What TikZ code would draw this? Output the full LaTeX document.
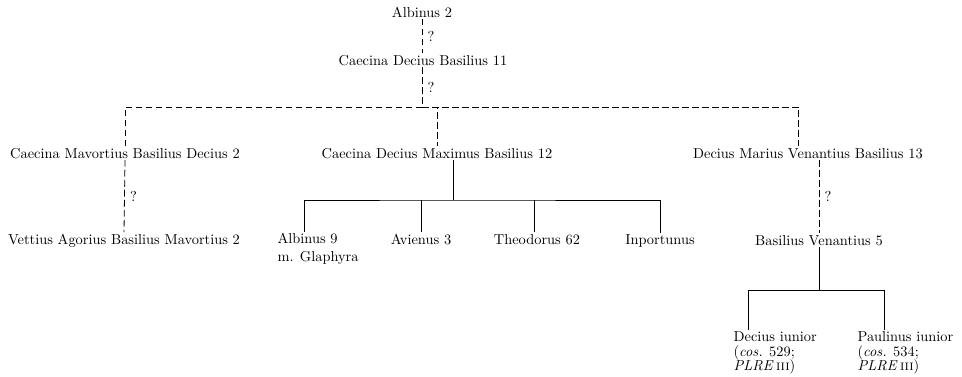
\documentclass[tikz,border=0pt]{standalone}
\usepackage{tikz}

\begin{document}
\begin{tikzpicture}[
        x=0.75pt, y=-0.75pt,
        every node/.style={font=\fontsize{10.8}{13}\selectfont, inner sep=1pt},
        person/.style={anchor=base},
        branch/.style={anchor=north west, align=left},
        consul/.style={branch, font=\fontsize{10.8}{11}\selectfont},
        line/.style={semithick},
        doubtful/.style={semithick, dash pattern=on 5pt off 2.5pt},
        query/.style={right, inner sep=4pt}
    ]
        \useasboundingbox (0,0) rectangle (962,376);
        % first generations
        \node[person] (alb2) at (422,17) {Albinus 2};
        \node[person] (cdb11) at (423,65) {Caecina Decius Basilius 11};
        \node[person] (cmbd2) at (125,158) {Caecina Mavortius Basilius Decius 2};
        \node[person] (cdmb12) at (437,158) {Caecina Decius Maximus Basilius 12};
        \node[person] (dmvb13) at (808,158) {Decius Marius Venantius Basilius 13};
        % sons and grandsons
        \node[person] (vabm2) at (124,244) {Vettius Agorius Basilius Mavortius 2};
        \node[branch] (alb9) at (276,232) {Albinus 9\\m. Glaphyra};
        \node[person] (avi3) at (421,244) {Avienus 3};
        \node[person] (theo62) at (537,244) {Theodorus 62};
        \node[person] (inport) at (660,244) {Inportunus};
        \node[person] (bv5) at (819,245) {Basilius Venantius 5};
        \node[consul] (deciusiun) at (732,330) {Decius iunior\\(\textit{cos.} 529;\\\textit{PLRE}\,\textsc{iii})};
        \node[consul] (paulinusiun) at (856,330) {Paulinus iunior\\(\textit{cos.} 534;\\\textit{PLRE}\,\textsc{iii})};
        \coordinate (topbar) at (422,107);
        \coordinate (midbar) at (453,200);
        \coordinate (lowbar) at (819,290);
        % uncertain descent
        \draw[doubtful] (alb2.south) -- (alb2.south |- cdb11.north) node[query, midway] {?};
        \draw[doubtful] (alb2.south |- cdb11.south) -- (topbar) node[query, midway] {?};
        \draw[doubtful] (cmbd2.north) |- (topbar);
        \draw[doubtful] (topbar) -| (cdmb12.north);
        \draw[doubtful] (topbar) -| ([xshift=-7pt]dmvb13.north);
        \draw[doubtful] (cmbd2.south) -- (vabm2.north) node[query, midway] {?};
        \draw[doubtful] (bv5.north |- dmvb13.south) -- (bv5.north) node[query, midway] {?};
        % certain descent
        \draw[line] (midbar |- cdmb12.south) -- (midbar);
        \draw[line] ([xshift=21pt]alb9.north west) |- (midbar) -| (inport.north);
        \draw[line] (avi3.north) -- (avi3.north |- midbar);
        \draw[line] ([xshift=-2pt]theo62.north) -- ([xshift=-2pt]theo62.north |- midbar);
        \draw[line] (bv5.south) -- (lowbar);
        \draw[line] ([xshift=12pt]deciusiun.north west) |- (lowbar) -| ([xshift=21pt]paulinusiun.north west);
    \end{tikzpicture}
\end{document}
